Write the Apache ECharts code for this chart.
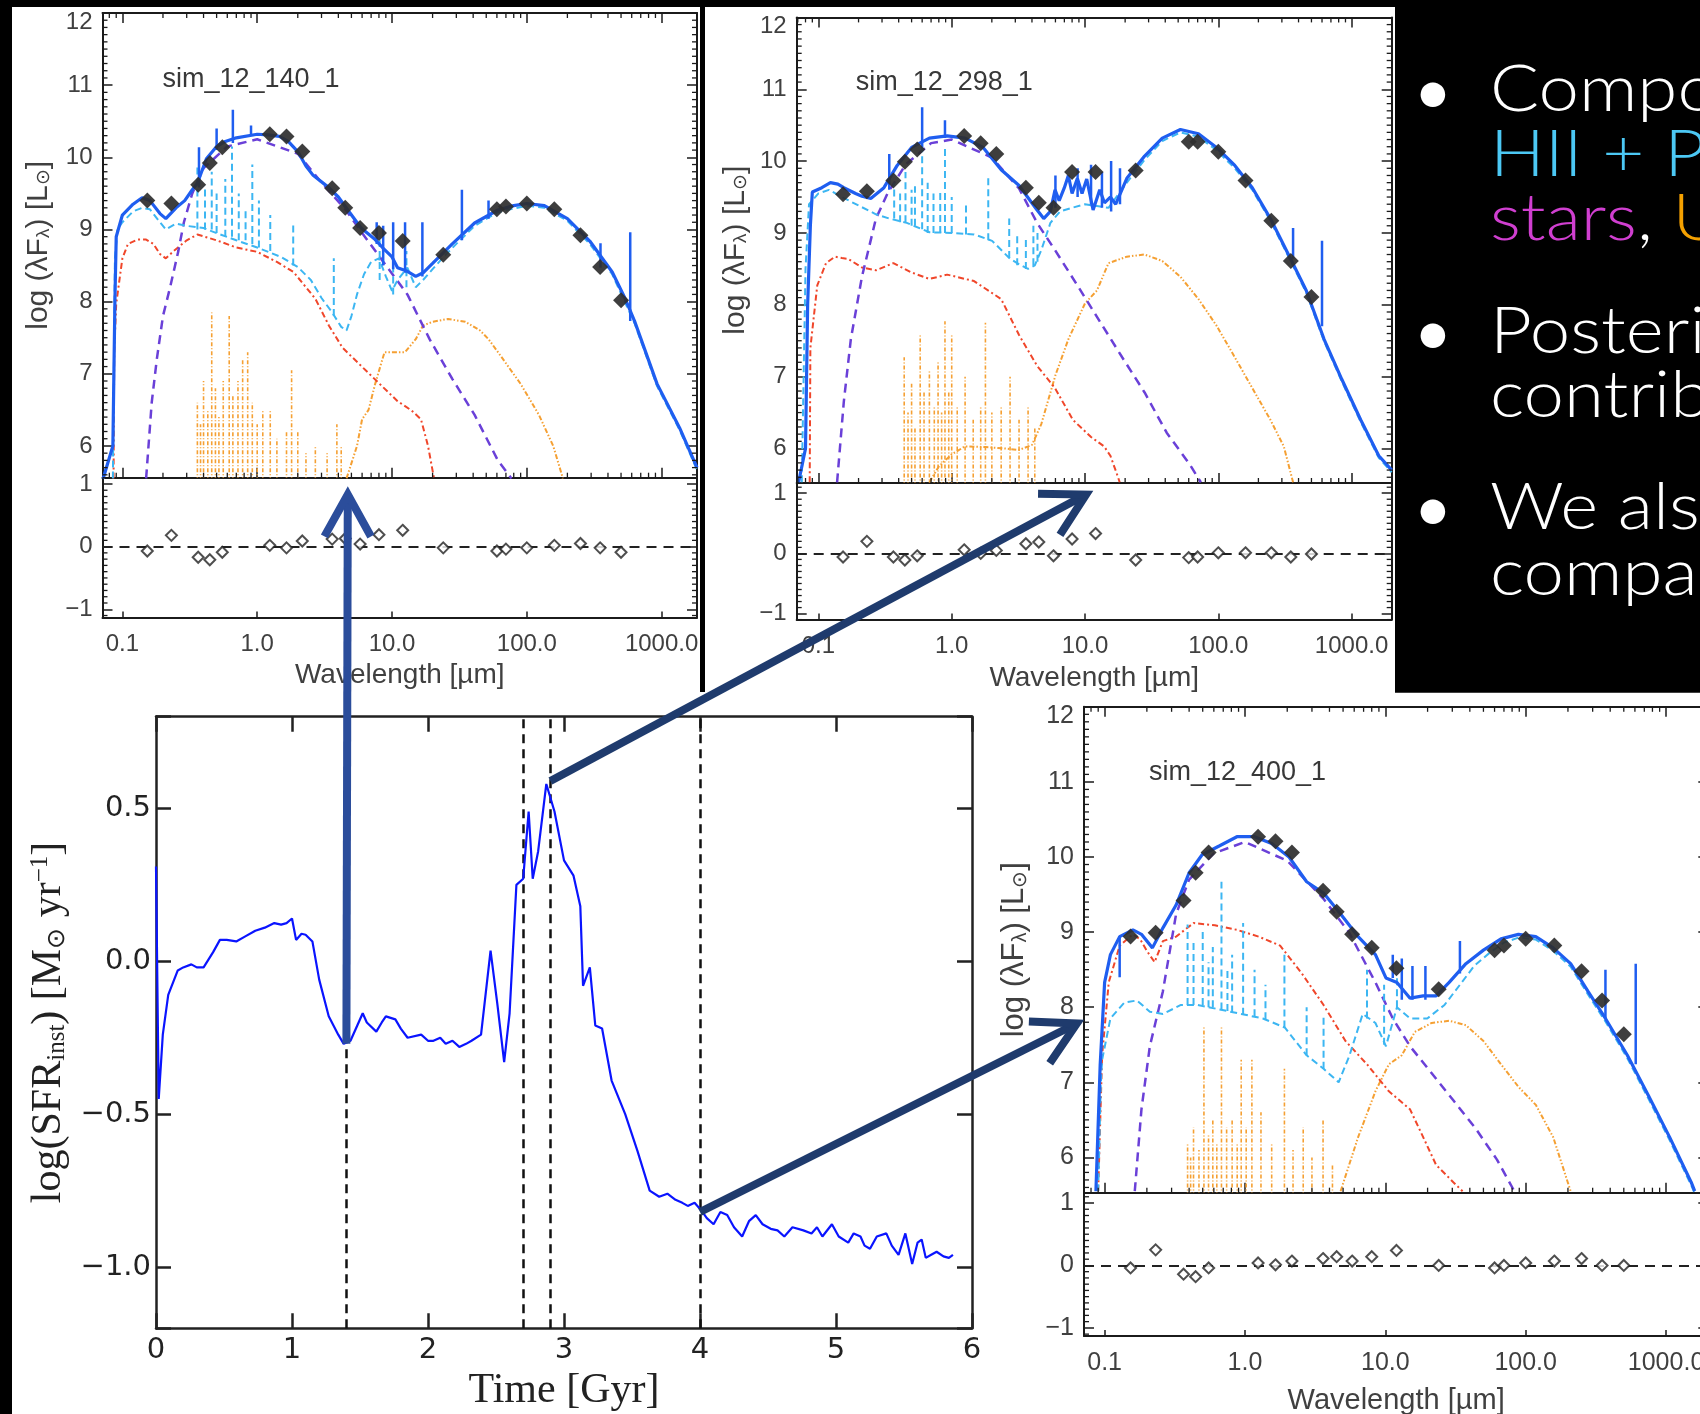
<!DOCTYPE html>
<html><head><meta charset="utf-8">
<script src="https://cdn.jsdelivr.net/npm/echarts@6/dist/echarts.min.js"></script>
<style>html,body{margin:0;padding:0;background:#fff}#c{width:1700px;height:1414px}</style>
</head><body><div id="c"></div>
<script>
// ---------------- DATA ----------------
const sedXTickExp = [-1, 0, 1, 2, 3];
const sedXTickLabels = ['0.1', '1.0', '10.0', '100.0', '1000.0'];
const sfrYTickVals = [-1.0, -0.5, 0.0, 0.5];
const sfrYTickLabels = ['\u22121.0', '\u22120.5', '0.0', '0.5'];
const simLabels = ['sim_12_140_1', 'sim_12_298_1', 'sim_12_400_1'];

// photometric bands (micron)
const bandLam = [0.153,0.231,0.365,0.445,0.551,1.24,1.65,2.16,3.6,4.5,5.8,8.0,12,24,60,70,100,160,250,350,500];

// ---- panel 1 : sim_12_140_1 ----
const p1Phot = [9.40,9.36,9.62,9.92,10.14,10.32,10.29,10.08,9.57,9.30,9.02,8.95,8.84,8.65,9.28,9.32,9.36,9.28,8.92,8.48,8.02];
const p1Res  = [-0.07,0.18,-0.17,-0.21,-0.09,0.02,-0.02,0.09,0.12,0.13,0.04,0.19,0.26,-0.02,-0.07,-0.04,-0.02,0.02,0.05,-0.02,-0.09];
const p1Total = [[0.072,5.55],[0.085,6.0],[0.088,8.0],[0.09,8.9],[0.1,9.2],[0.12,9.35],[0.14,9.44],[0.16,9.4],[0.19,9.22],[0.21,9.15],[0.25,9.3],[0.29,9.4],[0.33,9.55],[0.36,9.64],[0.42,9.98],[0.5,10.15],[0.58,10.22],[0.7,10.27],[1.0,10.32],[1.2,10.31],[1.46,10.29],[1.7,10.22],[2.0,10.08],[2.3,9.88],[2.6,9.75],[3.4,9.58],[4.0,9.45],[4.7,9.27],[5.9,9.02],[7.5,8.86],[8.5,8.75],[10,8.62],[11,8.47],[13,8.42],[15,8.35],[17,8.4],[20,8.53],[28,8.8],[41,9.09],[61,9.27],[80,9.33],[100,9.36],[135,9.33],[200,9.15],[293,8.84],[430,8.41],[537,8.04],[630,7.73],[925,6.86],[1360,6.25],[1830,5.7]];
const p1TotalLines = [[0.37,9.58,10.14],[0.5,10.1,10.4],[0.66,10.2,10.66],[0.9,10.3,10.44],[7.7,8.8,9.1],[8.6,8.5,9.05],[10.2,8.45,9.1],[12.5,8.4,9.1],[16.8,8.35,9.1],[33,8.85,9.55],[52,9.15,9.4],[352,8.47,8.81],[585,7.73,8.96]];
const p1Hii = [[0.085,5.55],[0.088,8.6],[0.092,9.0],[0.1,9.1],[0.12,9.25],[0.14,9.3],[0.16,9.28],[0.19,9.1],[0.21,9.0],[0.25,9.08],[0.3,9.05],[0.4,9.02],[0.5,8.95],[0.7,8.85],[1.0,8.75],[1.5,8.62],[2.0,8.48],[2.5,8.3],[3.0,8.05],[3.6,7.85],[4.2,7.65],[4.6,7.6],[5.0,7.8],[5.5,8.1],[6.2,8.38],[7.0,8.55],[8.0,8.6],[9.0,8.35],[10,8.15],[11,8.3],[13,8.47],[15,8.2],[17,8.3],[20,8.45],[25,8.65],[30,8.8],[41,9.05],[61,9.24],[100,9.33],[135,9.3],[200,9.12],[293,8.8],[430,8.38],[630,7.7],[925,6.83],[1360,6.22],[1830,5.67]];
const p1HiiLines = [[0.36,9.0,9.9],[0.41,9.0,9.6],[0.46,9.0,9.8],[0.5,8.95,9.5],[0.58,8.9,9.7],[0.65,8.9,10.15],[0.73,8.85,9.5],[0.82,8.85,9.3],[0.92,8.8,9.9],[1.03,8.75,9.4],[1.25,8.7,9.2],[1.85,8.5,9.1],[3.7,7.8,8.6],[8.1,8.3,8.85],[10.2,8.1,8.6],[12.8,8.2,8.7]];
const p1Stars = [[0.086,5.55],[0.087,7.3],[0.09,7.97],[0.1,8.6],[0.11,8.8],[0.13,8.86],[0.15,8.86],[0.17,8.8],[0.19,8.66],[0.21,8.6],[0.24,8.7],[0.3,8.85],[0.36,8.93],[0.5,8.85],[0.7,8.75],[1.0,8.69],[1.4,8.55],[1.86,8.41],[2.7,8.04],[3.4,7.67],[4.3,7.36],[5.9,7.11],[8.1,6.86],[11,6.62],[14,6.49],[16.4,6.37],[18.5,6.0],[20.5,5.55]];
const p1Old = [[0.15,5.55],[0.165,6.6],[0.18,7.2],[0.2,7.8],[0.226,8.2],[0.26,8.7],[0.286,9.1],[0.33,9.5],[0.4,9.85],[0.6,10.15],[1.0,10.25],[2.0,10.05],[3.0,9.65],[4.5,9.28],[6.0,8.95],[8.8,8.53],[13,8.1],[19,7.48],[28,6.93],[41,6.43],[61,5.8],[77,5.55]];
const p1Dust = [[4.6,5.55],[5.5,6.0],[6.0,6.37],[6.7,6.5],[7.5,6.86],[8.8,7.3],[10.2,7.3],[12.5,7.3],[15,7.48],[17,7.67],[20,7.72],[26,7.76],[35,7.72],[45,7.6],[52,7.48],[65,7.23],[90,6.86],[123,6.43],[157,6.0],[180,5.63],[185,5.55]];
const p1DustLines = [[0.36,6.6],[0.38,6.3],[0.4,6.9],[0.43,6.5],[0.46,7.85],[0.49,6.8],[0.52,6.4],[0.56,6.9],[0.62,7.8],[0.66,6.7],[0.72,6.9],[0.78,7.2],[0.85,7.3],[0.92,6.6],[1.0,6.3],[1.1,6.5],[1.25,6.5],[1.4,6.1],[1.65,6.2],[1.8,7.05],[2.0,6.2],[2.3,5.9],[2.7,6.0],[3.3,5.9],[3.9,6.3],[4.2,6.0]];

// ---- panel 2 : sim_12_298_1 ----
const p2Phot = [9.54,9.58,9.73,9.99,10.16,10.35,10.25,10.1,9.63,9.42,9.35,9.85,9.85,9.87,10.27,10.27,10.13,9.73,9.17,8.61,8.11];
const p2Res  = [-0.06,0.2,-0.06,-0.11,-0.04,0.06,0.0,0.05,0.16,0.19,-0.04,0.24,0.33,-0.11,-0.07,-0.06,0.01,0.01,0.01,-0.06,-0.01];
const p2Total = [[0.071,5.53],[0.08,6.0],[0.083,8.0],[0.087,9.1],[0.09,9.57],[0.106,9.63],[0.123,9.7],[0.14,9.68],[0.155,9.63],[0.19,9.55],[0.212,9.51],[0.247,9.48],[0.31,9.63],[0.39,9.94],[0.5,10.19],[0.68,10.32],[0.925,10.35],[1.26,10.32],[1.72,10.19],[2.35,9.88],[3.2,9.66],[4.37,9.32],[4.9,9.2],[5.5,9.3],[5.96,9.6],[6.4,9.45],[7.0,9.63],[7.5,9.8],[8.0,9.55],[8.77,9.76],[9.5,9.55],[10.3,9.75],[11.5,9.32],[12.9,9.6],[14,9.42],[15.5,9.5],[17,9.4],[20.6,9.76],[28,10.07],[38,10.32],[52,10.44],[71,10.38],[97,10.19],[133,9.94],[180,9.63],[246,9.2],[336,8.7],[457,8.2],[622,7.52],[846,6.96],[1170,6.4],[1600,5.9],[2000,5.7]];
const p2TotalLines = [[0.34,9.6,10.1],[0.6,10.19,10.75],[0.89,10.32,10.57],[6.0,9.35,9.8],[8.8,9.5,9.9],[11.1,9.4,9.95],[13.4,9.35,9.85],[15.7,9.3,10.0],[18.3,9.4,9.9],[364,8.64,9.07],[600,7.7,8.89]];
const p2Hii = [[0.075,5.53],[0.08,8.5],[0.085,9.4],[0.1,9.55],[0.12,9.6],[0.15,9.5],[0.196,9.39],[0.27,9.26],[0.34,9.2],[0.46,9.14],[0.68,9.01],[1.0,9.0],[1.47,8.98],[2.01,8.89],[2.74,8.64],[3.3,8.55],[3.74,8.5],[4.2,8.55],[4.7,8.76],[5.5,9.14],[6.5,9.3],[8,9.35],[10,9.4],[15,9.35],[20.6,9.7],[28,10.02],[38,10.28],[52,10.4],[71,10.34],[97,10.15],[133,9.9],[180,9.6],[246,9.17],[336,8.67],[457,8.17],[622,7.49],[846,6.93],[1170,6.37],[1600,5.87],[2000,5.67]];
const p2HiiLines = [[0.37,9.2,9.7],[0.41,9.15,9.55],[0.45,9.15,9.85],[0.5,9.1,9.6],[0.53,9.1,9.65],[0.6,9.05,10.2],[0.66,9.0,9.7],[0.73,9.0,9.55],[0.82,9.0,9.6],[0.89,9.0,10.2],[1.0,9.0,9.5],[1.28,8.98,9.4],[1.88,8.9,9.8],[2.7,8.65,9.2],[3.1,8.55,9.0],[3.6,8.5,8.95],[4.1,8.55,9.1],[4.4,8.6,9.0]];
const p2Stars = [[0.086,5.53],[0.087,7.4],[0.098,8.27],[0.114,8.58],[0.133,8.67],[0.15,8.65],[0.167,8.64],[0.212,8.52],[0.27,8.48],[0.365,8.58],[0.5,8.45],[0.68,8.36],[0.925,8.42],[1.47,8.33],[2.35,8.08],[3.2,7.58],[4.37,7.15],[5.96,6.84],[8.1,6.4],[11.1,6.16],[13.9,6.03],[15.5,5.9],[17.7,5.6],[18.2,5.53]];
const p2Old = [[0.138,5.53],[0.155,6.65],[0.175,7.52],[0.212,8.39],[0.27,9.2],[0.33,9.55],[0.45,9.95],[0.7,10.25],[1.0,10.3],[2.0,10.05],[3.2,9.62],[4.37,9.14],[5.96,8.76],[8.77,8.27],[12.9,7.77],[19,7.27],[28,6.78],[41,6.22],[61,5.78],[74,5.53]];
const p2Dust = [[0.68,5.53],[0.8,5.75],[1.0,5.92],[1.26,6.03],[1.8,6.02],[2.5,6.0],[3.2,5.98],[4.0,6.05],[4.7,6.34],[6,7.02],[7.5,7.52],[10,8.02],[12.3,8.2],[15,8.58],[20.6,8.67],[28,8.7],[38,8.61],[52,8.39],[71,8.08],[97,7.71],[133,7.27],[180,6.84],[246,6.4],[310,6.03],[364,5.53]];
const p2DustLines = [[0.44,7.27],[0.47,6.5],[0.5,6.9],[0.53,6.3],[0.58,7.6],[0.62,6.8],[0.68,7.1],[0.74,6.6],[0.79,7.2],[0.84,6.5],[0.89,7.77],[0.95,6.8],[1.0,7.6],[1.1,6.6],[1.26,7.0],[1.45,6.4],[1.65,6.6],[1.79,7.75],[2.0,6.5],[2.35,6.6],[2.74,7.0],[3.2,6.4],[3.74,6.6],[4.2,6.3]];

// ---- panel 3 : sim_12_400_1 ----
const p3Phot = [8.94,8.99,9.42,9.79,10.06,10.27,10.21,10.06,9.55,9.27,8.97,8.79,8.52,8.24,8.76,8.82,8.91,8.82,8.48,8.09,7.64];
const p3Res  = [-0.04,0.25,-0.14,-0.18,-0.04,0.04,0.01,0.07,0.11,0.14,0.07,0.14,0.24,0.0,-0.04,0.0,0.04,0.07,0.11,0.0,0.0];
const p3Total = [[0.0867,5.55],[0.093,7.24],[0.1,8.33],[0.11,8.7],[0.128,8.94],[0.159,9.03],[0.183,8.97],[0.219,8.79],[0.261,9.06],[0.323,9.36],[0.4,9.79],[0.495,10.03],[0.66,10.15],[0.876,10.27],[1.17,10.27],[1.55,10.18],[2.06,10.0],[2.75,9.67],[3.63,9.52],[4.8,9.24],[6.4,8.94],[8.5,8.7],[10.1,8.39],[12.1,8.33],[15,8.12],[18.6,8.15],[23,8.15],[28.5,8.33],[37.5,8.58],[50,8.76],[66.7,8.91],[88.7,8.97],[118,8.94],[157,8.79],[209,8.58],[278,8.21],[370,7.85],[530,7.36],[750,6.82],[1060,6.27],[1510,5.67],[1600,5.55]];
const p3TotalLines = [[0.128,8.4,8.94],[11.3,8.39,8.7],[13.1,8.1,8.65],[15.6,8.1,8.55],[19.3,8.1,8.55],[34,8.45,8.88],[370,7.85,8.5],[608,7.24,8.58]];
const p3Hii = [[0.09,5.55],[0.094,7.0],[0.096,7.3],[0.11,7.85],[0.138,8.06],[0.17,8.09],[0.21,7.94],[0.26,7.91],[0.35,8.03],[0.46,8.03],[0.66,7.97],[0.94,7.91],[1.34,7.85],[1.92,7.73],[2.75,7.36],[3.63,7.18],[4.65,7.0],[5.56,7.36],[6.9,7.91],[8.5,7.79],[10.1,7.48],[12.1,8.0],[15,7.85],[19.9,7.85],[26.4,8.03],[35,8.33],[43,8.55],[55,8.72],[70,8.86],[90,8.93],[118,8.9],[157,8.75],[209,8.54],[278,8.17],[370,7.81],[530,7.32],[750,6.78],[1060,6.23],[1510,5.63],[1600,5.52]];
const p3HiiLines = [[0.39,8.03,9.1],[0.43,8.03,8.9],[0.5,8.03,9.0],[0.55,8.0,8.6],[0.59,8.0,8.8],[0.68,7.97,9.67],[0.75,7.95,8.5],[0.81,7.93,8.7],[0.97,7.9,9.12],[1.17,7.88,8.5],[1.4,7.84,8.3],[1.91,7.73,8.7],[2.75,7.36,8.0],[3.63,7.18,7.9],[7.4,7.85,8.5],[9.8,7.5,8.3],[12.1,8.0,8.4]];
const p3Stars = [[0.09,5.55],[0.096,7.36],[0.107,8.33],[0.128,8.82],[0.159,8.97],[0.18,8.9],[0.2,8.75],[0.227,8.6],[0.26,8.88],[0.323,8.94],[0.43,9.12],[0.61,9.09],[0.876,9.03],[1.25,8.94],[1.78,8.82],[2.54,8.45],[3.63,8.03],[5.2,7.55],[7.4,7.24],[10.6,6.88],[15,6.64],[18.6,6.27],[23,5.9],[30.5,5.67],[35.5,5.55]];
const p3Old = [[0.164,5.55],[0.183,6.64],[0.21,7.48],[0.26,8.21],[0.323,9.24],[0.4,9.7],[0.6,10.05],[1.0,10.2],[2.0,9.95],[3.6,9.45],[5.5,9.0],[8.5,8.33],[11.3,7.85],[15,7.48],[21.4,7.12],[30.5,6.76],[43.8,6.39],[62.4,5.97],[83,5.55]];
const p3Dust = [[4.8,5.55],[6.4,6.27],[8.5,6.88],[10.6,7.24],[13.1,7.36],[16.2,7.67],[21.4,7.79],[28.5,7.82],[37.5,7.76],[50,7.55],[66.7,7.24],[88.7,6.94],[118,6.7],[157,6.27],[209,5.55]];
const p3DustLines = [[0.39,6.2],[0.41,6.0],[0.43,6.4],[0.47,6.1],[0.51,7.73],[0.55,6.3],[0.59,6.5],[0.63,6.2],[0.68,7.73],[0.74,6.4],[0.81,6.5],[0.88,6.2],[0.94,7.3],[1.02,6.4],[1.12,7.3],[1.3,6.6],[1.55,6.2],[1.91,7.18],[2.2,6.1],[2.6,6.4],[3.0,6.0],[3.6,6.5],[4.2,5.9]];

// ---- star formation history ----
const sfrTime = [0,0.02,0.05,0.09,0.16,0.2,0.26,0.3,0.35,0.42,0.47,0.52,0.59,0.65,0.73,0.8,0.87,0.92,0.96,1.0,1.03,1.07,1.1,1.15,1.2,1.27,1.34,1.38,1.43,1.48,1.52,1.55,1.62,1.66,1.69,1.76,1.8,1.85,1.95,2.0,2.04,2.09,2.13,2.18,2.23,2.28,2.32,2.39,2.46,2.51,2.56,2.6,2.65,2.7,2.74,2.77,2.81,2.87,2.93,3.0,3.07,3.12,3.14,3.19,3.23,3.28,3.35,3.45,3.54,3.63,3.7,3.76,3.82,3.87,3.91,3.96,4.01,4.05,4.1,4.15,4.2,4.25,4.31,4.36,4.41,4.46,4.52,4.57,4.62,4.68,4.76,4.82,4.86,4.9,4.97,5.02,5.09,5.13,5.18,5.21,5.25,5.3,5.37,5.41,5.46,5.51,5.56,5.6,5.63,5.66,5.7,5.74,5.79,5.83,5.86];
const sfrLog = [0.31,-0.45,-0.24,-0.11,-0.03,-0.02,-0.01,-0.02,-0.02,0.03,0.07,0.07,0.065,0.08,0.1,0.11,0.125,0.12,0.125,0.14,0.07,0.09,0.087,0.065,-0.06,-0.18,-0.24,-0.27,-0.26,-0.21,-0.17,-0.2,-0.23,-0.2,-0.18,-0.19,-0.22,-0.25,-0.24,-0.26,-0.26,-0.25,-0.27,-0.26,-0.28,-0.27,-0.26,-0.24,0.035,-0.14,-0.33,-0.17,0.25,0.27,0.49,0.27,0.36,0.58,0.49,0.33,0.28,0.18,-0.08,-0.02,-0.21,-0.22,-0.39,-0.5,-0.62,-0.75,-0.77,-0.76,-0.78,-0.79,-0.8,-0.79,-0.815,-0.84,-0.86,-0.82,-0.83,-0.87,-0.9,-0.85,-0.83,-0.86,-0.875,-0.88,-0.9,-0.87,-0.88,-0.89,-0.87,-0.9,-0.86,-0.9,-0.92,-0.89,-0.9,-0.93,-0.94,-0.9,-0.89,-0.93,-0.96,-0.89,-0.99,-0.92,-0.91,-0.97,-0.96,-0.95,-0.965,-0.97,-0.96];
const sfrMarkers = [1.4, 2.7, 2.9, 4.0];

// arrows: from SFR (t, logSFR) to panel targets
const arrowFrom = [[1.4, -0.27], [2.9, 0.59], [4.0, -0.82]];
const arrowTo = [[4.7, 0.96], [11.5, 1.04], [0.0713, 7.83]];

// bullet text
const bulletLines = ['Components:', 'HII + PDR,', 'stars, UV', 'Posterior', 'contributions', 'We also', 'compare'];

// ---------------- LAYOUT / STYLE ----------------
const FR = '#1b1b1b', TXT = '#404040';
const C = {total:'#1f5ef0', hii:'#3cb6f2', stars:'#f0462a', old:'#6a40d8', dust:'#f5a033'};
const LAYOUT = [
  {left:102.5, width:594.5, top:13,    mainH:464.7, resH:139.7, xMin:0.0712, xMax:1830, yMin:5.56, rMin:-1.13, rMax:1.10,  fs:24, fsN:28, fsY:30, xGap:44, yGap:49, lx:60, ly:67},
  {left:796.7, width:595,   top:17.4,  mainH:465.6, resH:136.6, xMin:0.0687, xMax:2000, yMin:5.52, rMin:-1.10, rMax:1.17,  fs:24, fsN:28, fsY:30, xGap:45, yGap:46, lx:59, ly:65},
  {left:1084,  width:624.3, top:706.8, mainH:485.9, resH:143.3, xMin:0.0713, xMax:2000, yMin:5.53, rMin:-1.13, rMax:1.165, fs:25, fsN:29, fsY:31, xGap:50, yGap:54, lx:65, ly:66}
];
const PANELS = [
  {phot:p1Phot, res:p1Res, total:p1Total, totalLines:p1TotalLines, hii:p1Hii, hiiLines:p1HiiLines, stars:p1Stars, old:p1Old, dust:p1Dust, dustLines:p1DustLines},
  {phot:p2Phot, res:p2Res, total:p2Total, totalLines:p2TotalLines, hii:p2Hii, hiiLines:p2HiiLines, stars:p2Stars, old:p2Old, dust:p2Dust, dustLines:p2DustLines},
  {phot:p3Phot, res:p3Res, total:p3Total, totalLines:p3TotalLines, hii:p3Hii, hiiLines:p3HiiLines, stars:p3Stars, old:p3Old, dust:p3Dust, dustLines:p3DustLines}
];

const fmtInt = v => { const r = Math.round(v); if (Math.abs(v - r) > 1e-6) return ''; return r < 0 ? '\u2212' + Math.abs(r) : String(Math.abs(r)); };
const fmtMain = v => { const s = fmtInt(v); return (s === '12') ? '{t|12}' : s; };
const fmtLam = v => { const lg = Math.log10(v); const r = Math.round(lg); if (Math.abs(lg - r) > 1e-6) return ''; const k = sedXTickExp.indexOf(r); return k < 0 ? '' : sedXTickLabels[k]; };
const fmtSfr = v => { for (let k = 0; k < sfrYTickVals.length; k++) if (Math.abs(v - sfrYTickVals[k]) < 1e-6) return sfrYTickLabels[k]; return ''; };

function lineS(xi, yi, data, color, width, type, z) {
  return {type:'line', xAxisIndex:xi, yAxisIndex:yi, data, showSymbol:false, symbol:'none', silent:true, clip:true, z,
    lineStyle:{color, width, type}, emphasis:{disabled:true}};
}
function spikeS(xi, yi, data, color, width, dash, z) {
  return {type:'custom', xAxisIndex:xi, yAxisIndex:yi, data, clip:true, silent:true, z, encode:{x:0, y:[1,2]},
    renderItem(params, api) {
      const a = api.coord([api.value(0), api.value(1)]);
      const b = api.coord([api.value(0), api.value(2)]);
      return {type:'line', shape:{x1:a[0], y1:a[1], x2:b[0], y2:b[1]}, style:{stroke:color, lineWidth:width, lineDash:dash}};
    }};
}
function xMinor(xi, yi, vals, yRef, len) {
  return {type:'custom', xAxisIndex:xi, yAxisIndex:yi, data:vals.map(v => [v, yRef]), clip:false, silent:true, z:9, encode:{x:0, y:1},
    renderItem(params, api) {
      const cs = params.coordSys; const px = api.coord([api.value(0), api.value(1)])[0];
      const st = {stroke:FR, lineWidth:1.3};
      return {type:'group', children:[
        {type:'line', shape:{x1:px, y1:cs.y + cs.height, x2:px, y2:cs.y + cs.height - len}, style:st},
        {type:'line', shape:{x1:px, y1:cs.y, x2:px, y2:cs.y + len}, style:st}]};
    }};
}
function yMinor(xi, yi, vals, xRef, len) {
  return {type:'custom', xAxisIndex:xi, yAxisIndex:yi, data:vals.map(v => [xRef, v]), clip:false, silent:true, z:9, encode:{x:0, y:1},
    renderItem(params, api) {
      const cs = params.coordSys; const py = api.coord([api.value(0), api.value(1)])[1];
      const st = {stroke:FR, lineWidth:1.3};
      return {type:'group', children:[
        {type:'line', shape:{x1:cs.x, y1:py, x2:cs.x + len, y2:py}, style:st},
        {type:'line', shape:{x1:cs.x + cs.width, y1:py, x2:cs.x + cs.width - len, y2:py}, style:st}]};
    }};
}

const grids = [], xAxes = [], yAxes = [], series = [];
const photIdx = [], resIdx = [];
const gridBase = {containLabel:false, outerBoundsMode:'none'};

LAYOUT.forEach((L, i) => {
  const P = PANELS[i];
  const gm = 2 * i, gr = 2 * i + 1;
  grids.push(Object.assign({left:L.left, top:L.top, width:L.width, height:L.mainH}, gridBase));
  grids.push(Object.assign({left:L.left, top:L.top + L.mainH, width:L.width, height:L.resH}, gridBase));
  const lineS2 = {color:FR, width:2};
  const xBase = {type:'log', logBase:10, min:L.xMin, max:L.xMax, splitLine:{show:false}, minorSplitLine:{show:false},
    axisLine:{show:true, onZero:false, lineStyle:lineS2}, axisTick:{show:true, inside:true, length:10, lineStyle:{color:FR, width:1.5}}, axisLabel:{show:false}};
  xAxes.push(Object.assign({}, xBase, {gridIndex:gm, position:'bottom'}));
  xAxes.push(Object.assign({}, xBase, {gridIndex:gm, position:'top'}));
  xAxes.push(Object.assign({}, xBase, {gridIndex:gr, position:'bottom',
    axisTick:{show:true, inside:true, length:6, lineStyle:{color:FR, width:1.5}},
    axisLabel:{show:true, margin:15, fontFamily:'Liberation Sans', fontSize:L.fs, color:TXT, showMinLabel:true, showMaxLabel:true, formatter:fmtLam},
    name:'Wavelength [\u00b5m]', nameLocation:'middle', nameGap:L.xGap,
    nameTextStyle:{fontFamily:'Liberation Sans', fontSize:L.fsN, color:TXT}}));
  const yBase = {type:'value', splitLine:{show:false}, axisLine:{show:true, onZero:false, lineStyle:lineS2},
    axisTick:{show:true, inside:true, length:10, lineStyle:{color:FR, width:1.5}}, axisLabel:{show:false}};
  const yLabMain = {show:true, margin:10, fontFamily:'Liberation Sans', fontSize:L.fs, color:TXT, formatter:fmtMain, showMinLabel:true, showMaxLabel:true,
    rich:{t:{fontFamily:'Liberation Sans', fontSize:L.fs, color:TXT, padding:[18,0,0,0]}}};
  const yLabRes = {show:true, margin:10, fontFamily:'Liberation Sans', fontSize:L.fs, color:TXT, formatter:fmtInt, showMinLabel:true, showMaxLabel:true};
  yAxes.push(Object.assign({}, yBase, {gridIndex:gm, position:'left', min:L.yMin, max:12, splitNumber:6, axisLabel:yLabMain,
    name:'log (\u03bbF{s|\u03bb}) [L{s|\u2299}]', nameLocation:'middle', nameGap:L.yGap,
    nameTextStyle:{fontFamily:'Liberation Sans', fontSize:L.fsY, color:TXT,
      rich:{s:{fontFamily:'Liberation Sans', fontSize:Math.round(L.fsY * 0.63), color:TXT, verticalAlign:'bottom', lineHeight:17}}}}));
  yAxes.push(Object.assign({}, yBase, {gridIndex:gm, position:'right', min:L.yMin, max:12, splitNumber:6}));
  yAxes.push(Object.assign({}, yBase, {gridIndex:gr, position:'left', min:L.rMin, max:L.rMax, splitNumber:2, axisLabel:yLabRes}));
  yAxes.push(Object.assign({}, yBase, {gridIndex:gr, position:'right', min:L.rMin, max:L.rMax, splitNumber:2}));

  const xm = 3 * i, xr = 3 * i + 2, ym = 4 * i, yr = 4 * i + 2;
  series.push(lineS(xm, ym, P.dust, C.dust, 2, [5,2,1.5,2,1.5,2], 2));
  series.push(spikeS(xm, ym, P.dustLines.map(d => [d[0], L.yMin - 0.05, d[1]]), C.dust, 1.6, [4,2,1,2], 2));
  series.push(lineS(xm, ym, P.stars, C.stars, 2, [6,3,2,3], 3));
  series.push(lineS(xm, ym, P.old, C.old, 2.5, [9,6], 3));
  series.push(lineS(xm, ym, P.hii, C.hii, 2, [7,4], 4));
  series.push(spikeS(xm, ym, P.hiiLines, C.hii, 2, [7,4], 4));
  series.push(lineS(xm, ym, P.total, C.total, 3.2, 'solid', 6));
  series.push(spikeS(xm, ym, P.totalLines, C.total, 2.5, null, 6));
  series.push({type:'scatter', xAxisIndex:xm, yAxisIndex:ym, data:bandLam.map((l, k) => [l, P.phot[k]]), symbol:'diamond', symbolSize:16,
    itemStyle:{color:'#2e2e2e', opacity:0.92}, z:8, silent:true});
  photIdx.push(series.length - 1);
  series.push({type:'scatter', xAxisIndex:xr, yAxisIndex:yr, data:bandLam.map((l, k) => [l, P.res[k]]), symbol:'emptyDiamond', symbolSize:11,
    itemStyle:{color:'#222', borderWidth:1.6}, z:8, silent:true,
    markLine:{silent:true, symbol:'none', label:{show:false}, lineStyle:{color:'#222', type:[10,7], width:2}, data:[{yAxis:0}]}});
  resIdx.push(series.length - 1);
  // decorative minor ticks (2..9 per decade, 0.1 steps)
  const xmv = [];
  for (let d = -2; d <= 3; d++) for (let k = 2; k <= 9; k++) { const v = k * Math.pow(10, d); if (v > L.xMin && v < L.xMax) xmv.push(v); }
  series.push(xMinor(xm, ym, xmv, 9, 5));
  const ymv = [];
  for (let k = Math.ceil(L.yMin * 10); k < 120; k++) if (k % 10) ymv.push(k / 10);
  series.push(yMinor(xm, ym, ymv, 1, 5));
  const yrv = [];
  for (let k = Math.ceil(L.rMin * 10); k <= Math.floor(L.rMax * 10); k++) if (k % 10) yrv.push(k / 10);
  series.push(yMinor(xr, yr, yrv, 1, 5));
});

// SFR panel
grids.push(Object.assign({left:156, top:716.7, width:816, height:611.5}, gridBase));
const sfrLine = {color:'#222', width:2.5};
const sfrTick = {show:true, inside:true, length:15, lineStyle:{color:'#222', width:2.5}};
xAxes.push({type:'value', gridIndex:6, position:'bottom', min:0, max:6, interval:1, splitLine:{show:false},
  axisLine:{show:true, onZero:false, lineStyle:sfrLine}, axisTick:sfrTick,
  axisLabel:{margin:8, fontFamily:'DejaVu Sans', fontSize:29, color:'#222'},
  name:'Time [Gyr]', nameLocation:'middle', nameGap:42, nameTextStyle:{fontFamily:'Liberation Serif', fontSize:42, color:'#222'}});
xAxes.push({type:'value', gridIndex:6, position:'top', min:0, max:6, interval:1, splitLine:{show:false},
  axisLine:{show:true, onZero:false, lineStyle:sfrLine}, axisTick:sfrTick, axisLabel:{show:false}});
yAxes.push({type:'value', gridIndex:6, position:'left', min:-1.2, max:0.8, splitNumber:4, splitLine:{show:false},
  axisLine:{show:true, onZero:false, lineStyle:sfrLine}, axisTick:sfrTick,
  axisLabel:{margin:5, fontFamily:'DejaVu Sans', fontSize:29, color:'#222', formatter:fmtSfr, showMinLabel:true, showMaxLabel:true},
  name:'log(SFR{s|inst}) [M{s|\u2299} yr{u|\u22121}]', nameLocation:'middle', nameGap:86,
  nameTextStyle:{fontFamily:'Liberation Serif', fontSize:42, color:'#222',
    rich:{s:{fontFamily:'Liberation Serif', fontSize:25, color:'#222', verticalAlign:'bottom', lineHeight:18},
          u:{fontFamily:'Liberation Serif', fontSize:25, color:'#222', verticalAlign:'top', lineHeight:18}}}});
yAxes.push({type:'value', gridIndex:6, position:'right', min:-1.2, max:0.8, splitNumber:4, splitLine:{show:false},
  axisLine:{show:true, onZero:false, lineStyle:sfrLine}, axisTick:sfrTick, axisLabel:{show:false}});
series.push({type:'line', xAxisIndex:9, yAxisIndex:12, data:sfrTime.map((t, k) => [t, sfrLog[k]]), showSymbol:false, symbol:'none',
  silent:true, z:5, lineStyle:{color:'#0a14ff', width:2.2},
  markLine:{silent:true, symbol:'none', label:{show:false}, lineStyle:{color:'#111', type:[9,6], width:2.5},
    data:sfrMarkers.map(t => ({xAxis:t}))}});
const sfrIdx = series.length - 1;

const chart = echarts.init(document.getElementById('c'), null, {renderer:'canvas', width:1700, height:1414});
chart.setOption({animation:false, backgroundColor:'#ffffff', grid:grids, xAxis:xAxes, yAxis:yAxes, series});

// ---------------- graphics: frames, text box, labels, arrows ----------------
const G = [];
G.push({type:'rect', z:50, shape:{x:0, y:0, width:1395, height:7}, style:{fill:'#000'}});
G.push({type:'rect', z:50, shape:{x:0, y:0, width:12, height:1414}, style:{fill:'#000'}});
G.push({type:'rect', z:50, shape:{x:700, y:0, width:5, height:692}, style:{fill:'#000'}});
G.push({type:'rect', z:50, shape:{x:1395, y:0, width:305, height:692.7}, style:{fill:'#000'}});

LAYOUT.forEach((L, i) => {
  G.push({type:'text', z:60, x:L.left + L.lx, y:L.top + L.ly,
    style:{text:simLabels[i], font:'27px "Liberation Sans"', fill:'#383838', textVerticalAlign:'middle', verticalAlign:'middle'}});
});

const FONT = '300 66px Lato';
const lineCenters = [90, 155, 219, 332, 396, 508, 574];
const bulletCenters = [93, 334, 510];
bulletCenters.forEach(yc => G.push({type:'text', z:60, x:1433, y:yc,
  style:{text:'\u2022', font:'66px Lato', fill:'#fff', textAlign:'center', align:'center', textVerticalAlign:'middle', verticalAlign:'middle'}}));
const lineColors = ['#ffffff', '#4cc8f4', null, '#ffffff', '#ffffff', '#ffffff', '#ffffff'];
bulletLines.forEach((t, k) => {
  if (k === 2) {
    const parts = t.split(', ');
    G.push({type:'text', z:60, x:1490, y:lineCenters[k], scaleX:1.1, style:{
      text:'{m|' + parts[0] + '}{w|, }{o|' + parts[1] + '}', font:FONT, fill:'#fff', textVerticalAlign:'middle', verticalAlign:'middle',
      rich:{m:{fill:'#d03fd0', font:FONT}, w:{fill:'#fff', font:FONT}, o:{fill:'#f5a100', font:FONT}}}});
  } else {
    G.push({type:'text', z:60, x:1490, y:lineCenters[k], scaleX:1.1,
      style:{text:t, font:FONT, fill:lineColors[k], textVerticalAlign:'middle', verticalAlign:'middle'}});
  }
});

function arrow(p0, p1, color) {
  const dx = p1[0] - p0[0], dy = p1[1] - p0[1], L = Math.hypot(dx, dy);
  const ux = dx / L, uy = dy / L, w = 8;
  const v = [p1[0] - ux * 8, p1[1] - uy * 8];
  const ang = 29 * Math.PI / 180, len = 48, bx = -ux, by = -uy;
  const arm = s => [v[0] + len * (bx * Math.cos(s * ang) - by * Math.sin(s * ang)), v[1] + len * (bx * Math.sin(s * ang) + by * Math.cos(s * ang))];
  return [
    {type:'line', z:100, shape:{x1:p0[0], y1:p0[1], x2:v[0], y2:v[1]}, style:{stroke:color, lineWidth:w}},
    {type:'polyline', z:100, shape:{points:[arm(1), v, arm(-1)]}, style:{stroke:color, lineWidth:w, fill:null, lineJoin:'miter'}}
  ];
}
const arrowTargets = [resIdx[0], resIdx[1], photIdx[2]];
const arrowColors = ['#2b4d9b', '#1f3b6d', '#1f3b6d'];
arrowFrom.forEach((f, k) => {
  const p0 = chart.convertToPixel({seriesIndex:sfrIdx}, f);
  const p1 = chart.convertToPixel({seriesIndex:arrowTargets[k]}, arrowTo[k]);
  arrow(p0, p1, arrowColors[k]).forEach(e => G.push(e));
});
chart.setOption({graphic:{elements:G}});
</script></body></html>
